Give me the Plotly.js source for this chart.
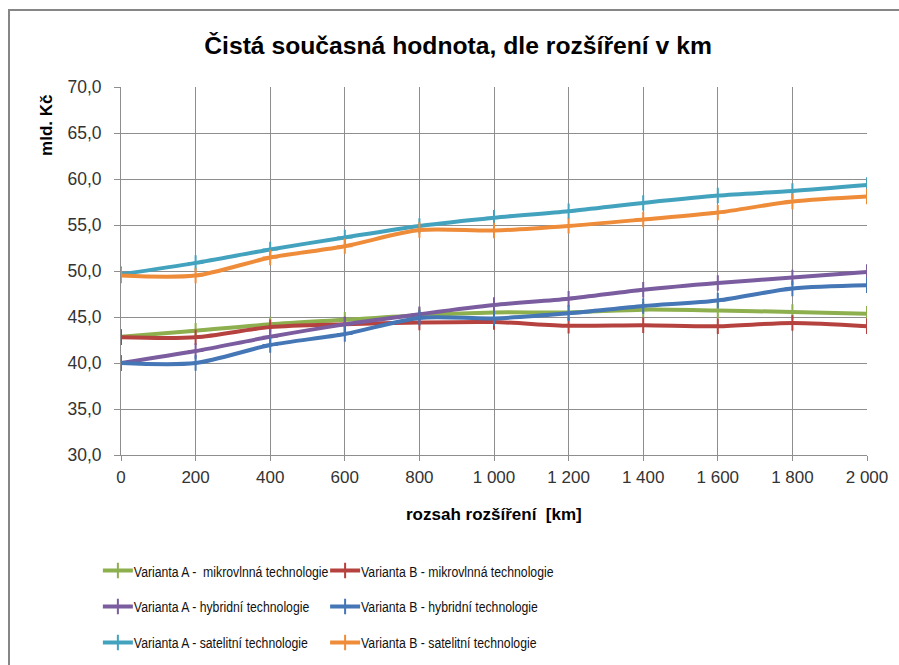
<!DOCTYPE html>
<html>
<head>
<meta charset="utf-8">
<script src="https://cdn.plot.ly/plotly-3.0.1.min.js"></script>
<style>
html,body{margin:0;padding:0;background:#fff;}
#wrap{position:relative;width:899px;height:665px;overflow:hidden;}
#chart{width:899px;height:665px;}
#frame{position:absolute;left:8px;top:9px;width:1000px;height:1000px;border-left:2px solid #868686;border-top:2px solid #868686;pointer-events:none;}
</style>
</head>
<body>
<div id="wrap"><div id="chart"></div><div id="frame"></div></div>
<script>
const rozsah = [0, 200, 400, 600, 800, 1000, 1200, 1400, 1600, 1800, 2000];
const tickLabels = ["0", "200", "400", "600", "800", "1 000", "1 200", "1 400", "1 600", "1 800", "2 000"];
const yTickVals = [30, 35, 40, 45, 50, 55, 60, 65, 70];
const yTickLabels = ["30,0", "35,0", "40,0", "45,0", "50,0", "55,0", "60,0", "65,0", "70,0"];
const seriesNames = [
  "Varianta A -  mikrovlnná technologie",
  "Varianta B - mikrovlnná technologie",
  "Varianta A - hybridní technologie",
  "Varianta B - hybridní technologie",
  "Varianta A - satelitní technologie",
  "Varianta B - satelitní technologie"
];
const aMikro  = [42.85, 43.5, 44.2, 44.7, 45.2, 45.5, 45.5, 45.8, 45.7, 45.55, 45.35];
const bMikro  = [42.8, 42.8, 43.9, 44.2, 44.4, 44.45, 44.05, 44.1, 44.0, 44.35, 44.0];
const aHybrid = [40.0, 41.3, 42.85, 44.2, 45.3, 46.3, 46.98, 47.96, 48.7, 49.3, 49.9];
const bHybrid = [40.0, 40.0, 41.95, 43.15, 44.9, 44.85, 45.4, 46.2, 46.8, 48.1, 48.45];
const aSat    = [49.64, 50.88, 52.34, 53.65, 54.9, 55.8, 56.5, 57.4, 58.2, 58.7, 59.35];
const bSat    = [49.5, 49.5, 51.46, 52.7, 54.45, 54.4, 54.9, 55.6, 56.35, 57.55, 58.1];
const colors = ["#8DAF4E", "#B5423F", "#7A5C9F", "#4576B6", "#43A3BE", "#EE8C3A"];
const allSeries = [aMikro, bMikro, aHybrid, bHybrid, aSat, bSat];
const legendIds = ["legend", "legend2", "legend3", "legend4", "legend5", "legend6"];

const traces = allSeries.map((ys, i) => ({
  type: "scatter",
  mode: "lines+markers",
  x: rozsah,
  y: ys,
  name: seriesNames[i],
  legend: legendIds[i],
  line: {color: colors[i], width: 4, shape: "spline", smoothing: 0.8},
  marker: {symbol: "cross-thin", size: 11, color: colors[i], line: {color: colors[i], width: 2}}
}));

const legendFont = {family: "Liberation Sans, Arial, sans-serif", size: 15.5, color: "#111111"};
function mkLegend(x, y) {
  return {orientation: "h", x: x, xanchor: "left", y: y, yanchor: "middle",
    font: legendFont, bgcolor: "rgba(0,0,0,0)"};
}
const colX = [-0.031, 0.2736];
const rowY = [-0.315, -0.4127, -0.5105];

const layout = {
  width: 899, height: 665,
  margin: {l: 121, r: 32, t: 87, b: 210, autoexpand: false},
  paper_bgcolor: "#ffffff", plot_bgcolor: "#ffffff",
  font: {family: "Liberation Sans, Arial, sans-serif", color: "#333333"},
  title: {text: "<b>Čistá současná hodnota, dle rozšíření v km</b>", xref: "container", x: 0.5095, xanchor: "center",
    yref: "container", y: 0.932, yanchor: "middle",
    font: {family: "Liberation Sans, Arial, sans-serif", size: 24.7, color: "#000000"}},
  xaxis: {
    range: [0, 2000], tickvals: rozsah, ticktext: tickLabels,
    showgrid: true, gridcolor: "#8e8e8e", gridwidth: 1,
    showline: true, linecolor: "#8e8e8e", linewidth: 1,
    ticks: "outside", ticklen: 5, tickcolor: "#8e8e8e", ticklabelstandoff: 2,
    tickfont: {size: 17, color: "#333333"}, zeroline: false, fixedrange: true, automargin: false
  },
  yaxis: {
    range: [30, 70], tickvals: yTickVals, ticktext: yTickLabels,
    showgrid: true, gridcolor: "#8e8e8e", gridwidth: 1,
    showline: true, linecolor: "#8e8e8e", linewidth: 1,
    ticks: "outside", ticklen: 6, tickcolor: "#8e8e8e", ticklabelstandoff: 9,
    tickfont: {size: 17.5, color: "#333333"}, zeroline: false, fixedrange: true, automargin: false
  },
  legend: mkLegend(colX[0], rowY[0]),
  legend2: mkLegend(colX[1], rowY[0]),
  legend3: mkLegend(colX[0], rowY[1]),
  legend4: mkLegend(colX[1], rowY[1]),
  legend5: mkLegend(colX[0], rowY[2]),
  legend6: mkLegend(colX[1], rowY[2]),
  annotations: [
    {text: "<b>mld. Kč</b>", textangle: -90, xref: "paper", yref: "paper", x: -0.099, y: 0.983,
      xanchor: "center", yanchor: "top", showarrow: false,
      font: {family: "Liberation Sans, Arial, sans-serif", size: 17, color: "#000000"}},
    {text: "<b>rozsah rozšíření  [km]</b>", xref: "paper", yref: "paper", x: 0.5, y: -0.163,
      xanchor: "center", yanchor: "middle", showarrow: false,
      font: {family: "Liberation Sans, Arial, sans-serif", size: 17, color: "#000000"}}
  ],
  showlegend: true
};

function condenseLegend(gd) {
  // legend text in the reference is set in a condensed face: compress glyphs horizontally
  const sel = legendIds.map(function (id) { return "text." + id + "text"; }).join(",");
  gd.querySelectorAll(sel).forEach(function (t) {
    if (t.getAttribute("data-cond")) return;
    const w = t.getComputedTextLength();
    if (!w) return;
    t.setAttribute("textLength", (w * 0.79).toFixed(1));
    t.setAttribute("lengthAdjust", "spacingAndGlyphs");
    t.setAttribute("x", String(parseFloat(t.getAttribute("x") || "40") - 4));
    t.setAttribute("data-cond", "1");
  });
}

const gdEl = document.getElementById("chart");
Plotly.newPlot(gdEl, traces, layout, {displayModeBar: false, staticPlot: true}).then(function (gd) {
  condenseLegend(gd);
  gd.on("plotly_afterplot", function () { condenseLegend(gd); });
});
</script>
</body>
</html>
